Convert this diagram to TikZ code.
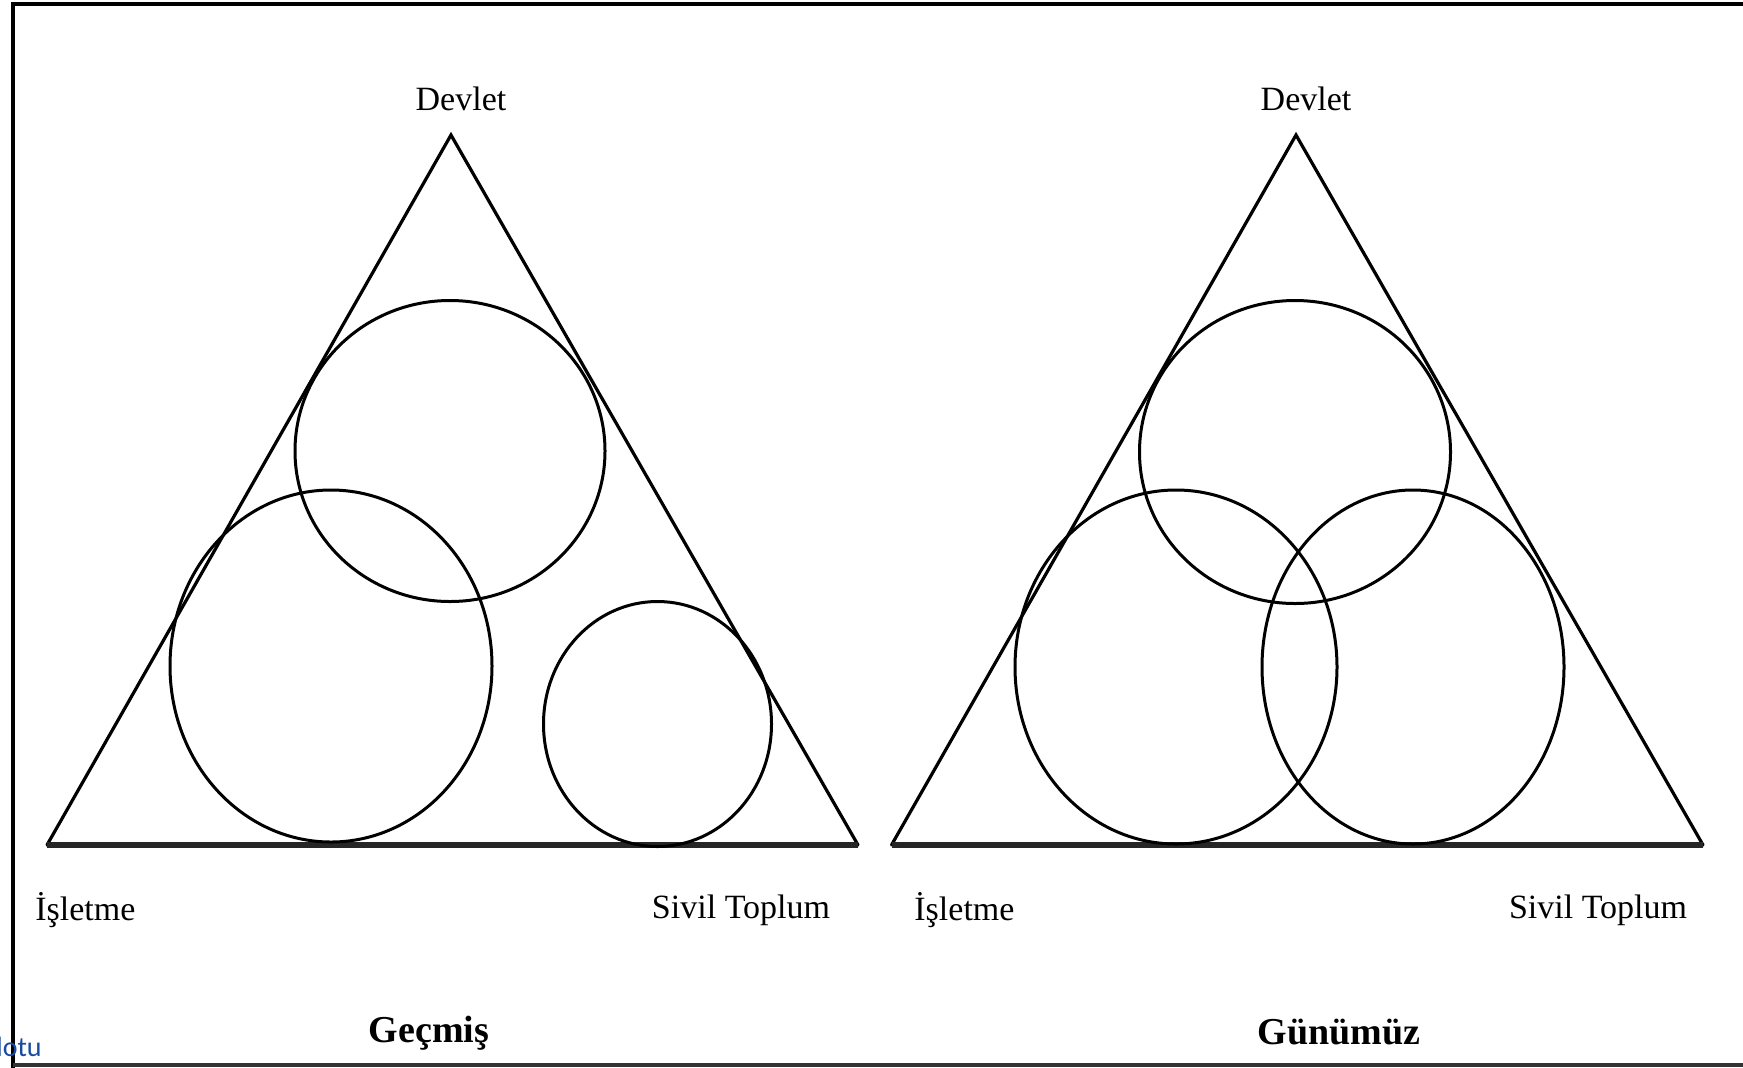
\documentclass[tikz,border=0pt]{standalone}
\usepackage{fontspec}
\setmainfont{Liberation Serif}
\newfontfamily\linkfont{Carlito}
\definecolor{linkblue}{RGB}{25,75,160}
\begin{document}
\begin{tikzpicture}[x=0.5pt,y=-0.5pt,
  side/.style={line width=1.6pt, line cap=round},
  basel/.style={line width=2.8pt, draw=black!85},
  ring/.style={line width=1.5pt},
  framel/.style={line width=2.4pt},
  lab/.style={font=\fontsize{17pt}{19pt}\selectfont, inner sep=0pt, anchor=base},
  ttl/.style={font=\fontsize{19pt}{21pt}\selectfont\bfseries, inner sep=0pt, anchor=base}]
\useasboundingbox (0,0) rectangle (1743,1067);
\fill[white] (0,0) rectangle (1743,1067);
% frame
\draw[framel] (13,1070) -- (13,4) -- (1750,4);
\draw[framel, black!80] (13,1065) -- (1750,1065);
% left triangle
\coordinate (LA) at (451,135);
\coordinate (LL) at (47,845);
\coordinate (LR) at (858,845);
\draw[side] (LL) -- (LA) -- (LR);
\draw[basel] (LL) -- (LR);
\draw[ring] (450,451) ellipse [x radius=77.5pt, y radius=75.25pt];
\draw[ring] (331,666) ellipse [x radius=80.5pt, y radius=88pt];
\draw[ring] (657.5,724) ellipse [x radius=57pt, y radius=61.25pt];
% right triangle
\coordinate (RA) at (1296,135);
\coordinate (RL) at (891.5,845);
\coordinate (RR) at (1703,845);
\draw[side] (RL) -- (RA) -- (RR);
\draw[basel] (RL) -- (RR);
\draw[ring] (1295,452) ellipse [x radius=77.75pt, y radius=75.75pt];
\draw[ring] (1176,667) ellipse [x radius=80.5pt, y radius=88.5pt];
\draw[ring] (1413,667) ellipse [x radius=75.5pt, y radius=88.5pt];
% labels
\node[lab] (devL) at (461,110) {Devlet};
\node[lab] (devR) at (1306,110) {Devlet};
\node[lab, anchor=base west] (isL) at (35,920) {İşletme};
\node[lab] (sivL) at (741,918) {Sivil Toplum};
\node[lab, anchor=base west] (isR) at (914,920) {İşletme};
\node[lab] (sivR) at (1598,918) {Sivil Toplum};
\node[ttl] (gec) at (429,1042) {Geçmiş};
\node[ttl] (gun) at (1339,1044) {Günümüz};
\node[font=\linkfont\fontsize{14pt}{16pt}\selectfont, text=linkblue, inner sep=0pt, anchor=base west] (lotu) at (-4,1056) {lotu};
\end{tikzpicture}
\end{document}
